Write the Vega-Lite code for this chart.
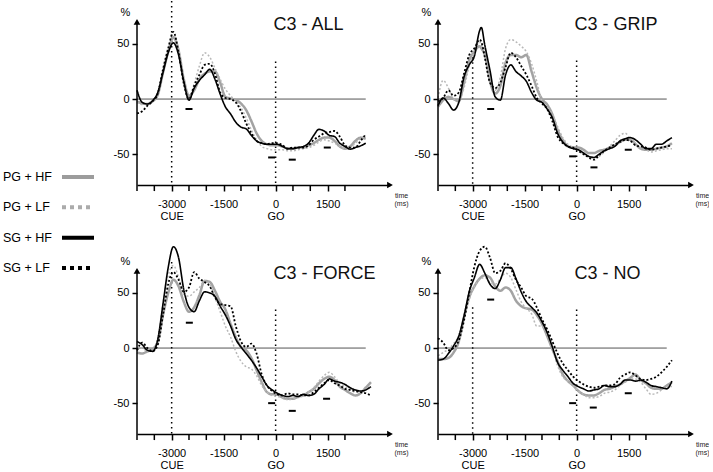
{
  "$schema": "https://vega.github.io/schema/vega-lite/v6.json",
  "padding": 0,
  "bounds": "flush",
  "spacing": 37,
  "background": "white",
  "config": {
    "view": {"stroke": null},
    "font": "Liberation Sans",
    "text": {"font": "Liberation Sans"},
    "axis": {"labelFont": "Liberation Sans", "titleFont": "Liberation Sans"},
    "header": {"labels": false, "title": null, "labelFontSize": 0, "labelPadding": 0, "titlePadding": 0}
  },
  "resolve": {"scale": {"color": "independent", "strokeDash": "independent", "x": "independent", "y": "independent"}},
  "datasets": {
    "legend": [
      {"s": "PG + HF"}, {"s": "PG + LF"}, {"s": "SG + HF"}, {"s": "SG + LF"}
    ],
    "main": [
      {"p": "ALL", "k": "title", "title": "C3 - ALL"},
      {"p": "GRIP", "k": "title", "title": "C3 - GRIP"},
      {"p": "FORCE", "k": "title", "title": "C3 - FORCE"},
      {"p": "NO", "k": "title", "title": "C3 - NO"},
      {"p": "ALL", "k": "r", "t": -3000, "v": 89},
      {"p": "ALL", "k": "r", "t": 0, "v": 34},
      {"p": "GRIP", "k": "r", "t": -3000, "v": 38},
      {"p": "GRIP", "k": "r", "t": 0, "v": 35},
      {"p": "FORCE", "k": "r", "t": -3000, "v": 78},
      {"p": "FORCE", "k": "r", "t": 0, "v": 35},
      {"p": "NO", "k": "r", "t": -3000, "v": 37},
      {"p": "NO", "k": "r", "t": 0, "v": 35},
      {"p": "ALL", "k": "m", "t": -2500, "v": -9},
      {"p": "ALL", "k": "m", "t": -115, "v": -53},
      {"p": "ALL", "k": "m", "t": 480, "v": -55},
      {"p": "ALL", "k": "m", "t": 1490, "v": -44},
      {"p": "GRIP", "k": "m", "t": -2480, "v": -9},
      {"p": "GRIP", "k": "m", "t": -115, "v": -52},
      {"p": "GRIP", "k": "m", "t": 500, "v": -62},
      {"p": "GRIP", "k": "m", "t": 1490, "v": -46},
      {"p": "FORCE", "k": "m", "t": -2490, "v": 23},
      {"p": "FORCE", "k": "m", "t": -115, "v": -50},
      {"p": "FORCE", "k": "m", "t": 480, "v": -57},
      {"p": "FORCE", "k": "m", "t": 1470, "v": -46},
      {"p": "NO", "k": "m", "t": -2480, "v": 44},
      {"p": "NO", "k": "m", "t": -115, "v": -50},
      {"p": "NO", "k": "m", "t": 480, "v": -54},
      {"p": "NO", "k": "m", "t": 1490, "v": -41},

      {"p": "ALL", "k": "tk", "t": -4000}, {"p": "ALL", "k": "tk", "t": -3500}, {"p": "ALL", "k": "tk", "t": -2500},
      {"p": "ALL", "k": "tk", "t": -2000}, {"p": "ALL", "k": "tk", "t": -1000}, {"p": "ALL", "k": "tk", "t": -500},
      {"p": "ALL", "k": "tk", "t": 500}, {"p": "ALL", "k": "tk", "t": 1000}, {"p": "ALL", "k": "tk", "t": 2000},
      {"p": "GRIP", "k": "tk", "t": -4000}, {"p": "GRIP", "k": "tk", "t": -3500}, {"p": "GRIP", "k": "tk", "t": -2500},
      {"p": "GRIP", "k": "tk", "t": -2000}, {"p": "GRIP", "k": "tk", "t": -1000}, {"p": "GRIP", "k": "tk", "t": -500},
      {"p": "GRIP", "k": "tk", "t": 500}, {"p": "GRIP", "k": "tk", "t": 1000}, {"p": "GRIP", "k": "tk", "t": 2000},
      {"p": "FORCE", "k": "tk", "t": -4000}, {"p": "FORCE", "k": "tk", "t": -3500}, {"p": "FORCE", "k": "tk", "t": -2500},
      {"p": "FORCE", "k": "tk", "t": -2000}, {"p": "FORCE", "k": "tk", "t": -1000}, {"p": "FORCE", "k": "tk", "t": -500},
      {"p": "FORCE", "k": "tk", "t": 500}, {"p": "FORCE", "k": "tk", "t": 1000}, {"p": "FORCE", "k": "tk", "t": 2000},
      {"p": "NO", "k": "tk", "t": -4000}, {"p": "NO", "k": "tk", "t": -3500}, {"p": "NO", "k": "tk", "t": -2500},
      {"p": "NO", "k": "tk", "t": -2000}, {"p": "NO", "k": "tk", "t": -1000}, {"p": "NO", "k": "tk", "t": -500},
      {"p": "NO", "k": "tk", "t": 500}, {"p": "NO", "k": "tk", "t": 1000}, {"p": "NO", "k": "tk", "t": 2000},

      {"p": "ALL", "t": -4000, "PG + HF": -2, "PG + LF": -3, "SG + HF": 8, "SG + LF": -13},
      {"p": "ALL", "t": -3850, "PG + HF": -4, "PG + LF": -5, "SG + HF": -3, "SG + LF": -11},
      {"p": "ALL", "t": -3700, "PG + HF": -4.5, "PG + LF": -4, "SG + HF": -4.5, "SG + LF": -6},
      {"p": "ALL", "t": -3550, "PG + HF": -2, "PG + LF": -1, "SG + HF": -1.5, "SG + LF": -2},
      {"p": "ALL", "t": -3400, "PG + HF": 4, "PG + LF": 5, "SG + HF": 6, "SG + LF": 5},
      {"p": "ALL", "t": -3250, "PG + HF": 24, "PG + LF": 26, "SG + HF": 24, "SG + LF": 27},
      {"p": "ALL", "t": -3100, "PG + HF": 43, "PG + LF": 45, "SG + HF": 42, "SG + LF": 46},
      {"p": "ALL", "t": -2950, "PG + HF": 56, "PG + LF": 58, "SG + HF": 51, "SG + LF": 61},
      {"p": "ALL", "t": -2800, "PG + HF": 44, "PG + LF": 45, "SG + HF": 40, "SG + LF": 42},
      {"p": "ALL", "t": -2650, "PG + HF": 18, "PG + LF": 17, "SG + HF": 16, "SG + LF": 14},
      {"p": "ALL", "t": -2500, "PG + HF": 3, "PG + LF": 1, "SG + HF": -1, "SG + LF": 0},
      {"p": "ALL", "t": -2350, "PG + HF": 8, "PG + LF": 14, "SG + HF": 10, "SG + LF": 12},
      {"p": "ALL", "t": -2200, "PG + HF": 18, "PG + LF": 30, "SG + HF": 17, "SG + LF": 22},
      {"p": "ALL", "t": -2050, "PG + HF": 23, "PG + LF": 42, "SG + HF": 22, "SG + LF": 31},
      {"p": "ALL", "t": -1900, "PG + HF": 25, "PG + LF": 38, "SG + HF": 27, "SG + LF": 32},
      {"p": "ALL", "t": -1750, "PG + HF": 25, "PG + LF": 28, "SG + HF": 18, "SG + LF": 23},
      {"p": "ALL", "t": -1600, "PG + HF": 15, "PG + LF": 18, "SG + HF": 4.5, "SG + LF": 6},
      {"p": "ALL", "t": -1450, "PG + HF": 2, "PG + LF": 9, "SG + HF": -7, "SG + LF": 1},
      {"p": "ALL", "t": -1300, "PG + HF": 0.5, "PG + LF": 3, "SG + HF": -13.5, "SG + LF": 0},
      {"p": "ALL", "t": -1150, "PG + HF": -1, "PG + LF": -2, "SG + HF": -21, "SG + LF": -3},
      {"p": "ALL", "t": -1000, "PG + HF": -4, "PG + LF": -8, "SG + HF": -25.5, "SG + LF": -11},
      {"p": "ALL", "t": -850, "PG + HF": -10, "PG + LF": -17, "SG + HF": -27, "SG + LF": -22},
      {"p": "ALL", "t": -700, "PG + HF": -20, "PG + LF": -28, "SG + HF": -33, "SG + LF": -31},
      {"p": "ALL", "t": -550, "PG + HF": -31, "PG + LF": -37, "SG + HF": -38, "SG + LF": -38},
      {"p": "ALL", "t": -400, "PG + HF": -38, "PG + LF": -43, "SG + HF": -40, "SG + LF": -40},
      {"p": "ALL", "t": -250, "PG + HF": -41, "PG + LF": -45, "SG + HF": -41, "SG + LF": -41},
      {"p": "ALL", "t": -100, "PG + HF": -42, "PG + LF": -46, "SG + HF": -41, "SG + LF": -40},
      {"p": "ALL", "t": 50, "PG + HF": -42, "PG + LF": -46, "SG + HF": -41, "SG + LF": -40},
      {"p": "ALL", "t": 200, "PG + HF": -43, "PG + LF": -46, "SG + HF": -43, "SG + LF": -42},
      {"p": "ALL", "t": 350, "PG + HF": -45, "PG + LF": -47, "SG + HF": -45, "SG + LF": -45},
      {"p": "ALL", "t": 500, "PG + HF": -45, "PG + LF": -47, "SG + HF": -45, "SG + LF": -44},
      {"p": "ALL", "t": 650, "PG + HF": -44, "PG + LF": -46, "SG + HF": -44, "SG + LF": -44},
      {"p": "ALL", "t": 800, "PG + HF": -44, "PG + LF": -45, "SG + HF": -43, "SG + LF": -44},
      {"p": "ALL", "t": 950, "PG + HF": -42, "PG + LF": -44, "SG + HF": -40, "SG + LF": -42},
      {"p": "ALL", "t": 1100, "PG + HF": -40, "PG + LF": -42, "SG + HF": -33, "SG + LF": -37},
      {"p": "ALL", "t": 1250, "PG + HF": -37, "PG + LF": -39, "SG + HF": -27.5, "SG + LF": -34},
      {"p": "ALL", "t": 1400, "PG + HF": -35, "PG + LF": -37, "SG + HF": -29, "SG + LF": -31},
      {"p": "ALL", "t": 1550, "PG + HF": -35, "PG + LF": -38, "SG + HF": -33, "SG + LF": -30},
      {"p": "ALL", "t": 1700, "PG + HF": -38, "PG + LF": -40, "SG + HF": -34, "SG + LF": -29},
      {"p": "ALL", "t": 1850, "PG + HF": -43, "PG + LF": -43, "SG + HF": -40, "SG + LF": -34},
      {"p": "ALL", "t": 2000, "PG + HF": -45, "PG + LF": -45, "SG + HF": -43, "SG + LF": -42},
      {"p": "ALL", "t": 2150, "PG + HF": -43, "PG + LF": -44, "SG + HF": -45.5, "SG + LF": -44},
      {"p": "ALL", "t": 2300, "PG + HF": -38, "PG + LF": -40, "SG + HF": -44, "SG + LF": -44},
      {"p": "ALL", "t": 2450, "PG + HF": -35, "PG + LF": -36, "SG + HF": -42.5, "SG + LF": -38},
      {"p": "ALL", "t": 2600, "PG + HF": -36, "PG + LF": -33, "SG + HF": -40, "SG + LF": -32},

      {"p": "GRIP", "t": -4000, "PG + HF": -7, "PG + LF": 1, "SG + HF": -6, "SG + LF": -2},
      {"p": "GRIP", "t": -3850, "PG + HF": -1, "PG + LF": 17, "SG + HF": 1, "SG + LF": 1},
      {"p": "GRIP", "t": -3700, "PG + HF": 2, "PG + LF": 10, "SG + HF": -4, "SG + LF": 8},
      {"p": "GRIP", "t": -3550, "PG + HF": 0, "PG + LF": 0, "SG + HF": -10, "SG + LF": 3},
      {"p": "GRIP", "t": -3400, "PG + HF": -2, "PG + LF": -1, "SG + HF": -3, "SG + LF": 6},
      {"p": "GRIP", "t": -3250, "PG + HF": 15, "PG + LF": 10, "SG + HF": 20, "SG + LF": 23},
      {"p": "GRIP", "t": -3100, "PG + HF": 35, "PG + LF": 30, "SG + HF": 31, "SG + LF": 40},
      {"p": "GRIP", "t": -2950, "PG + HF": 43, "PG + LF": 43, "SG + HF": 39, "SG + LF": 46},
      {"p": "GRIP", "t": -2800, "PG + HF": 48, "PG + LF": 52, "SG + HF": 62, "SG + LF": 54},
      {"p": "GRIP", "t": -2750, "PG + HF": 46, "PG + LF": 49, "SG + HF": 65, "SG + LF": 52},
      {"p": "GRIP", "t": -2650, "PG + HF": 40, "PG + LF": 45, "SG + HF": 49, "SG + LF": 38},
      {"p": "GRIP", "t": -2500, "PG + HF": 16, "PG + LF": 20, "SG + HF": 26, "SG + LF": 15},
      {"p": "GRIP", "t": -2350, "PG + HF": 5, "PG + LF": 8, "SG + HF": 2, "SG + LF": 10},
      {"p": "GRIP", "t": -2200, "PG + HF": 12, "PG + LF": 20, "SG + HF": -1, "SG + LF": 15},
      {"p": "GRIP", "t": -2050, "PG + HF": 33, "PG + LF": 46, "SG + HF": 22, "SG + LF": 29},
      {"p": "GRIP", "t": -1900, "PG + HF": 40, "PG + LF": 54, "SG + HF": 31, "SG + LF": 42},
      {"p": "GRIP", "t": -1750, "PG + HF": 40, "PG + LF": 52, "SG + HF": 25, "SG + LF": 38},
      {"p": "GRIP", "t": -1600, "PG + HF": 38, "PG + LF": 48, "SG + HF": 21, "SG + LF": 30},
      {"p": "GRIP", "t": -1450, "PG + HF": 40, "PG + LF": 43, "SG + HF": 16, "SG + LF": 22},
      {"p": "GRIP", "t": -1300, "PG + HF": 25, "PG + LF": 32, "SG + HF": 6, "SG + LF": 12},
      {"p": "GRIP", "t": -1150, "PG + HF": 10, "PG + LF": 16, "SG + HF": -1, "SG + LF": 1},
      {"p": "GRIP", "t": -1000, "PG + HF": 0, "PG + LF": -2, "SG + HF": -3, "SG + LF": -4},
      {"p": "GRIP", "t": -850, "PG + HF": -5, "PG + LF": -7, "SG + HF": -9, "SG + LF": -9},
      {"p": "GRIP", "t": -700, "PG + HF": -14, "PG + LF": -14, "SG + HF": -17, "SG + LF": -20},
      {"p": "GRIP", "t": -550, "PG + HF": -28, "PG + LF": -25, "SG + HF": -31, "SG + LF": -34},
      {"p": "GRIP", "t": -400, "PG + HF": -37, "PG + LF": -35, "SG + HF": -39, "SG + LF": -40},
      {"p": "GRIP", "t": -250, "PG + HF": -43, "PG + LF": -41, "SG + HF": -43, "SG + LF": -43},
      {"p": "GRIP", "t": -100, "PG + HF": -44, "PG + LF": -44, "SG + HF": -45, "SG + LF": -44},
      {"p": "GRIP", "t": 50, "PG + HF": -44, "PG + LF": -47, "SG + HF": -46, "SG + LF": -47},
      {"p": "GRIP", "t": 200, "PG + HF": -46, "PG + LF": -50, "SG + HF": -49, "SG + LF": -50},
      {"p": "GRIP", "t": 350, "PG + HF": -49, "PG + LF": -52, "SG + HF": -52, "SG + LF": -53},
      {"p": "GRIP", "t": 500, "PG + HF": -49, "PG + LF": -53, "SG + HF": -53, "SG + LF": -55},
      {"p": "GRIP", "t": 650, "PG + HF": -47, "PG + LF": -52, "SG + HF": -50, "SG + LF": -51},
      {"p": "GRIP", "t": 800, "PG + HF": -46, "PG + LF": -48, "SG + HF": -47, "SG + LF": -47},
      {"p": "GRIP", "t": 950, "PG + HF": -44, "PG + LF": -43, "SG + HF": -45, "SG + LF": -44},
      {"p": "GRIP", "t": 1100, "PG + HF": -42, "PG + LF": -38, "SG + HF": -43, "SG + LF": -41},
      {"p": "GRIP", "t": 1250, "PG + HF": -39, "PG + LF": -33, "SG + HF": -38, "SG + LF": -39},
      {"p": "GRIP", "t": 1400, "PG + HF": -37, "PG + LF": -31, "SG + HF": -36, "SG + LF": -37},
      {"p": "GRIP", "t": 1550, "PG + HF": -37, "PG + LF": -36, "SG + HF": -35, "SG + LF": -38},
      {"p": "GRIP", "t": 1700, "PG + HF": -41, "PG + LF": -40, "SG + HF": -37, "SG + LF": -42},
      {"p": "GRIP", "t": 1850, "PG + HF": -45, "PG + LF": -44, "SG + HF": -41, "SG + LF": -43},
      {"p": "GRIP", "t": 2000, "PG + HF": -46, "PG + LF": -46, "SG + HF": -45, "SG + LF": -44},
      {"p": "GRIP", "t": 2150, "PG + HF": -46, "PG + LF": -48, "SG + HF": -45, "SG + LF": -46},
      {"p": "GRIP", "t": 2300, "PG + HF": -45, "PG + LF": -47, "SG + HF": -41, "SG + LF": -45},
      {"p": "GRIP", "t": 2450, "PG + HF": -44, "PG + LF": -46, "SG + HF": -41, "SG + LF": -44},
      {"p": "GRIP", "t": 2600, "PG + HF": -43, "PG + LF": -45, "SG + HF": -38, "SG + LF": -43},
      {"p": "GRIP", "t": 2750, "PG + HF": -40, "PG + LF": -45, "SG + HF": -35, "SG + LF": -42},

      {"p": "FORCE", "t": -4000, "PG + HF": -4, "PG + LF": -2, "SG + HF": 6, "SG + LF": -2},
      {"p": "FORCE", "t": -3850, "PG + HF": -5, "PG + LF": 0, "SG + HF": 3, "SG + LF": 5},
      {"p": "FORCE", "t": -3700, "PG + HF": -3, "PG + LF": -3, "SG + HF": -2, "SG + LF": 0},
      {"p": "FORCE", "t": -3550, "PG + HF": -1, "PG + LF": -2, "SG + HF": -3, "SG + LF": -3},
      {"p": "FORCE", "t": -3400, "PG + HF": 6, "PG + LF": 8, "SG + HF": 8, "SG + LF": 3},
      {"p": "FORCE", "t": -3250, "PG + HF": 30, "PG + LF": 40, "SG + HF": 40, "SG + LF": 30},
      {"p": "FORCE", "t": -3100, "PG + HF": 50, "PG + LF": 66, "SG + HF": 73, "SG + LF": 58},
      {"p": "FORCE", "t": -2950, "PG + HF": 62, "PG + LF": 75, "SG + HF": 92, "SG + LF": 69},
      {"p": "FORCE", "t": -2800, "PG + HF": 56, "PG + LF": 64, "SG + HF": 82, "SG + LF": 62},
      {"p": "FORCE", "t": -2650, "PG + HF": 42, "PG + LF": 49, "SG + HF": 53, "SG + LF": 51},
      {"p": "FORCE", "t": -2500, "PG + HF": 33, "PG + LF": 47, "SG + HF": 37, "SG + LF": 55},
      {"p": "FORCE", "t": -2350, "PG + HF": 37, "PG + LF": 51, "SG + HF": 33, "SG + LF": 69},
      {"p": "FORCE", "t": -2200, "PG + HF": 48, "PG + LF": 55, "SG + HF": 43, "SG + LF": 63},
      {"p": "FORCE", "t": -2050, "PG + HF": 61, "PG + LF": 61, "SG + HF": 51, "SG + LF": 60},
      {"p": "FORCE", "t": -1900, "PG + HF": 60, "PG + LF": 58, "SG + HF": 50, "SG + LF": 56},
      {"p": "FORCE", "t": -1750, "PG + HF": 52, "PG + LF": 46, "SG + HF": 47, "SG + LF": 46},
      {"p": "FORCE", "t": -1600, "PG + HF": 42, "PG + LF": 33, "SG + HF": 38, "SG + LF": 40},
      {"p": "FORCE", "t": -1450, "PG + HF": 35, "PG + LF": 20, "SG + HF": 30, "SG + LF": 39},
      {"p": "FORCE", "t": -1300, "PG + HF": 22, "PG + LF": 10, "SG + HF": 20, "SG + LF": 38},
      {"p": "FORCE", "t": -1150, "PG + HF": 10, "PG + LF": -3, "SG + HF": 8, "SG + LF": 20},
      {"p": "FORCE", "t": -1000, "PG + HF": 1, "PG + LF": -12, "SG + HF": 1, "SG + LF": 6},
      {"p": "FORCE", "t": -850, "PG + HF": -2, "PG + LF": -17, "SG + HF": -5, "SG + LF": 1},
      {"p": "FORCE", "t": -700, "PG + HF": -9, "PG + LF": -19, "SG + HF": -11, "SG + LF": 4},
      {"p": "FORCE", "t": -550, "PG + HF": -20, "PG + LF": -25, "SG + HF": -18, "SG + LF": -5},
      {"p": "FORCE", "t": -400, "PG + HF": -31, "PG + LF": -34, "SG + HF": -26, "SG + LF": -24},
      {"p": "FORCE", "t": -250, "PG + HF": -40, "PG + LF": -40, "SG + HF": -34, "SG + LF": -34},
      {"p": "FORCE", "t": -100, "PG + HF": -42, "PG + LF": -43, "SG + HF": -38, "SG + LF": -39},
      {"p": "FORCE", "t": 50, "PG + HF": -42, "PG + LF": -44, "SG + HF": -41, "SG + LF": -42},
      {"p": "FORCE", "t": 200, "PG + HF": -45, "PG + LF": -45, "SG + HF": -43, "SG + LF": -43},
      {"p": "FORCE", "t": 350, "PG + HF": -46, "PG + LF": -47, "SG + HF": -44, "SG + LF": -41},
      {"p": "FORCE", "t": 500, "PG + HF": -46, "PG + LF": -46, "SG + HF": -43, "SG + LF": -42},
      {"p": "FORCE", "t": 650, "PG + HF": -44, "PG + LF": -45, "SG + HF": -44, "SG + LF": -42},
      {"p": "FORCE", "t": 800, "PG + HF": -43, "PG + LF": -43, "SG + HF": -42, "SG + LF": -43},
      {"p": "FORCE", "t": 950, "PG + HF": -40, "PG + LF": -40, "SG + HF": -43, "SG + LF": -43},
      {"p": "FORCE", "t": 1100, "PG + HF": -37, "PG + LF": -36, "SG + HF": -42, "SG + LF": -40},
      {"p": "FORCE", "t": 1250, "PG + HF": -32, "PG + LF": -30, "SG + HF": -37, "SG + LF": -36},
      {"p": "FORCE", "t": 1400, "PG + HF": -28, "PG + LF": -25, "SG + HF": -33, "SG + LF": -32},
      {"p": "FORCE", "t": 1550, "PG + HF": -26, "PG + LF": -22, "SG + HF": -28, "SG + LF": -29},
      {"p": "FORCE", "t": 1700, "PG + HF": -29, "PG + LF": -26, "SG + HF": -30, "SG + LF": -32},
      {"p": "FORCE", "t": 1850, "PG + HF": -35, "PG + LF": -32, "SG + HF": -31, "SG + LF": -34},
      {"p": "FORCE", "t": 2000, "PG + HF": -38, "PG + LF": -35, "SG + HF": -33, "SG + LF": -37},
      {"p": "FORCE", "t": 2150, "PG + HF": -41, "PG + LF": -38, "SG + HF": -36, "SG + LF": -38},
      {"p": "FORCE", "t": 2300, "PG + HF": -43, "PG + LF": -40, "SG + HF": -38, "SG + LF": -39},
      {"p": "FORCE", "t": 2450, "PG + HF": -41, "PG + LF": -40, "SG + HF": -39, "SG + LF": -40},
      {"p": "FORCE", "t": 2600, "PG + HF": -36, "PG + LF": -37, "SG + HF": -38, "SG + LF": -41},
      {"p": "FORCE", "t": 2750, "PG + HF": -31, "PG + LF": -35, "SG + HF": -35, "SG + LF": -43},

      {"p": "NO", "t": -4000, "PG + HF": -10, "PG + LF": -7, "SG + HF": -11, "SG + LF": 9},
      {"p": "NO", "t": -3850, "PG + HF": -10, "PG + LF": -4, "SG + HF": -10, "SG + LF": 5},
      {"p": "NO", "t": -3700, "PG + HF": -9, "PG + LF": -1, "SG + HF": -5, "SG + LF": -2},
      {"p": "NO", "t": -3550, "PG + HF": -4, "PG + LF": 4, "SG + HF": 2, "SG + LF": 0},
      {"p": "NO", "t": -3400, "PG + HF": 6, "PG + LF": 11, "SG + HF": 11, "SG + LF": 7},
      {"p": "NO", "t": -3250, "PG + HF": 28, "PG + LF": 28, "SG + HF": 29, "SG + LF": 25},
      {"p": "NO", "t": -3100, "PG + HF": 46, "PG + LF": 44, "SG + HF": 51, "SG + LF": 50},
      {"p": "NO", "t": -2950, "PG + HF": 56, "PG + LF": 56, "SG + HF": 64, "SG + LF": 74},
      {"p": "NO", "t": -2800, "PG + HF": 63, "PG + LF": 62, "SG + HF": 76, "SG + LF": 88},
      {"p": "NO", "t": -2650, "PG + HF": 66, "PG + LF": 64, "SG + HF": 68, "SG + LF": 92},
      {"p": "NO", "t": -2500, "PG + HF": 64, "PG + LF": 60, "SG + HF": 58, "SG + LF": 82},
      {"p": "NO", "t": -2350, "PG + HF": 56, "PG + LF": 58, "SG + HF": 54, "SG + LF": 68},
      {"p": "NO", "t": -2200, "PG + HF": 52, "PG + LF": 63, "SG + HF": 62, "SG + LF": 70},
      {"p": "NO", "t": -2050, "PG + HF": 55, "PG + LF": 68, "SG + HF": 73, "SG + LF": 77},
      {"p": "NO", "t": -1900, "PG + HF": 52, "PG + LF": 64, "SG + HF": 73, "SG + LF": 72},
      {"p": "NO", "t": -1750, "PG + HF": 43, "PG + LF": 53, "SG + HF": 63, "SG + LF": 62},
      {"p": "NO", "t": -1600, "PG + HF": 38, "PG + LF": 42, "SG + HF": 51, "SG + LF": 55},
      {"p": "NO", "t": -1450, "PG + HF": 36, "PG + LF": 36, "SG + HF": 42, "SG + LF": 47},
      {"p": "NO", "t": -1300, "PG + HF": 35, "PG + LF": 31, "SG + HF": 37, "SG + LF": 45},
      {"p": "NO", "t": -1150, "PG + HF": 30, "PG + LF": 20, "SG + HF": 32, "SG + LF": 37},
      {"p": "NO", "t": -1000, "PG + HF": 22, "PG + LF": 20, "SG + HF": 24, "SG + LF": 26},
      {"p": "NO", "t": -850, "PG + HF": 11, "PG + LF": 12, "SG + HF": 14, "SG + LF": 17},
      {"p": "NO", "t": -700, "PG + HF": -1, "PG + LF": -1, "SG + HF": 1, "SG + LF": 6},
      {"p": "NO", "t": -550, "PG + HF": -12, "PG + LF": -16, "SG + HF": -13, "SG + LF": -5},
      {"p": "NO", "t": -400, "PG + HF": -24, "PG + LF": -26, "SG + HF": -20, "SG + LF": -14},
      {"p": "NO", "t": -250, "PG + HF": -30, "PG + LF": -30, "SG + HF": -26, "SG + LF": -20},
      {"p": "NO", "t": -100, "PG + HF": -34, "PG + LF": -34, "SG + HF": -32, "SG + LF": -26},
      {"p": "NO", "t": 50, "PG + HF": -39, "PG + LF": -39, "SG + HF": -35, "SG + LF": -30},
      {"p": "NO", "t": 200, "PG + HF": -42, "PG + LF": -42, "SG + HF": -37, "SG + LF": -33},
      {"p": "NO", "t": 350, "PG + HF": -43, "PG + LF": -45, "SG + HF": -39, "SG + LF": -35},
      {"p": "NO", "t": 500, "PG + HF": -43, "PG + LF": -45, "SG + HF": -38, "SG + LF": -36},
      {"p": "NO", "t": 650, "PG + HF": -41, "PG + LF": -44, "SG + HF": -37, "SG + LF": -35},
      {"p": "NO", "t": 800, "PG + HF": -38, "PG + LF": -41, "SG + HF": -34, "SG + LF": -34},
      {"p": "NO", "t": 950, "PG + HF": -37, "PG + LF": -40, "SG + HF": -35, "SG + LF": -34},
      {"p": "NO", "t": 1100, "PG + HF": -35, "PG + LF": -38, "SG + HF": -35, "SG + LF": -33},
      {"p": "NO", "t": 1250, "PG + HF": -33, "PG + LF": -34, "SG + HF": -33, "SG + LF": -27},
      {"p": "NO", "t": 1400, "PG + HF": -30, "PG + LF": -31, "SG + HF": -29, "SG + LF": -24},
      {"p": "NO", "t": 1550, "PG + HF": -27, "PG + LF": -28, "SG + HF": -29, "SG + LF": -22},
      {"p": "NO", "t": 1700, "PG + HF": -24, "PG + LF": -28, "SG + HF": -30, "SG + LF": -25},
      {"p": "NO", "t": 1850, "PG + HF": -29, "PG + LF": -31, "SG + HF": -29, "SG + LF": -28},
      {"p": "NO", "t": 2000, "PG + HF": -32, "PG + LF": -37, "SG + HF": -31, "SG + LF": -29},
      {"p": "NO", "t": 2150, "PG + HF": -36, "PG + LF": -42, "SG + HF": -34, "SG + LF": -28},
      {"p": "NO", "t": 2300, "PG + HF": -37, "PG + LF": -41, "SG + HF": -35, "SG + LF": -26},
      {"p": "NO", "t": 2450, "PG + HF": -37, "PG + LF": -38, "SG + HF": -36, "SG + LF": -22},
      {"p": "NO", "t": 2600, "PG + HF": -34, "PG + LF": -35, "SG + HF": -37, "SG + LF": -17},
      {"p": "NO", "t": 2750, "PG + HF": -31, "PG + LF": -35, "SG + HF": -30, "SG + LF": -11}
    ]
  },
  "hconcat": [
    {
      "width": 100,
      "height": 300,
      "data": {"name": "legend"},
      "encoding": {
        "y": {"field": "s", "type": "nominal", "sort": null, "scale": {"type": "point", "padding": 0, "range": [176, 267]}, "axis": null}
      },
      "layer": [
        {
          "mark": {"type": "text", "align": "left", "baseline": "middle", "fontSize": 12.5, "color": "#000"},
          "encoding": {
            "x": {"datum": 3, "type": "quantitative", "scale": {"domain": [0, 100]}, "axis": null},
            "text": {"field": "s"}
          }
        },
        {
          "mark": {"type": "rule", "strokeWidth": 4},
          "encoding": {
            "x": {"datum": 62, "type": "quantitative", "scale": {"domain": [0, 100]}, "axis": null},
            "x2": {"datum": 94},
            "color": {"field": "s", "type": "nominal", "scale": {"domain": ["PG + HF", "PG + LF", "SG + HF", "SG + LF"], "range": ["#9c9c9c", "#ababab", "#000000", "#000000"]}, "legend": null},
            "strokeDash": {"field": "s", "type": "nominal", "scale": {"domain": ["PG + HF", "PG + LF", "SG + HF", "SG + LF"], "range": [[1, 0], [4, 4], [1, 0], [4, 4]]}, "legend": null}
          }
        }
      ]
    },
    {
      "data": {"name": "main"},
      "facet": {"field": "p", "type": "nominal", "title": null, "sort": ["ALL", "GRIP", "FORCE", "NO"], "header": null},
      "columns": 2,
      "spacing": {"row": 65, "column": 48},
      "bounds": "flush",
      "resolve": {"axis": {"x": "independent", "y": "independent"}},
      "spec": {
        "width": 253,
        "height": 184,
        "layer": [
          {
            "transform": [{"filter": "datum.k == 'title'"}],
            "mark": {"type": "rule", "color": "#555", "strokeWidth": 1},
            "encoding": {
              "x": {"datum": -4000, "type": "quantitative"},
              "x2": {"datum": 2600},
              "y": {"datum": 0, "type": "quantitative"}
            }
          },
          {
            "transform": [{"filter": "datum.k == 'r'"}],
            "mark": {"type": "rule", "color": "#000", "strokeWidth": 1.5, "strokeDash": [1.5, 3.5]},
            "encoding": {
              "x": {"field": "t", "type": "quantitative"},
              "y": {"field": "v", "type": "quantitative"},
              "y2": {"datum": -78}
            }
          },
          {
            "transform": [{"filter": "datum.k == 'tk'"}],
            "mark": {"type": "rule", "color": "#000", "strokeWidth": 1.5},
            "encoding": {
              "x": {"field": "t", "type": "quantitative"},
              "y": {"datum": -78, "type": "quantitative"},
              "y2": {"datum": -83.5}
            }
          },
          {
            "transform": [
              {"filter": "!datum.k"},
              {"fold": ["PG + HF", "PG + LF", "SG + HF", "SG + LF"], "as": ["s", "v"]}
            ],
            "mark": {"type": "line", "interpolate": "monotone"},
            "encoding": {
              "x": {
                "field": "t", "type": "quantitative",
                "scale": {"domain": [-4000, 3300], "nice": false, "zero": false},
                "axis": {
                  "values": [-3000, -1500, 0, 1500],
                  "grid": false, "domain": true, "domainColor": "#000", "domainWidth": 1.5,
                  "ticks": true, "tickColor": "#000", "tickWidth": 1.5, "tickSize": 6,
                  "labelExpr": "datum.value == -3000 ? ['-3000', 'CUE'] : datum.value == 0 ? ['0', 'GO'] : datum.value == -1500 ? '-1500' : '1500'",
                  "labelFontSize": 11, "labelColor": "#000", "labelPadding": 7, "labelLineHeight": 12.5,
                  "labelOverlap": false, "labelFlush": false, "labelBound": false,
                  "title": ["time", "(ms)"], "titleFontSize": 7, "titleFontWeight": "normal", "titleColor": "#222",
                  "titleX": 264, "titleY": 6, "titleAlign": "center", "titleBaseline": "top", "titleLineHeight": 8
                }
              },
              "y": {
                "field": "v", "type": "quantitative",
                "scale": {"domain": [-78, 89], "nice": false, "zero": false},
                "axis": {
                  "values": [-50, 0, 50], "grid": false, "domain": false,
                  "ticks": true, "tickColor": "#000", "tickWidth": 1.5, "tickSize": 5,
                  "labelExpr": "datum.value < 0 ? '-' + abs(datum.value) : '' + datum.value",
                  "labelFontSize": 11, "labelColor": "#000", "labelPadding": 3,
                  "title": "%", "titleAngle": 0, "titleFontSize": 11, "titleFontWeight": "normal", "titleColor": "#000",
                  "titleX": -12, "titleY": 14, "titleAlign": "center", "titleBaseline": "alphabetic"
                }
              },
              "color": {"field": "s", "type": "nominal", "scale": {"domain": ["PG + HF", "PG + LF", "SG + HF", "SG + LF"], "range": ["#a3a3a3", "#b8b8b8", "#000000", "#000000"]}, "legend": null},
              "strokeDash": {"field": "s", "type": "nominal", "scale": {"domain": ["PG + HF", "PG + LF", "SG + HF", "SG + LF"], "range": [[1, 0], [2, 2], [1, 0], [2, 2]]}, "legend": null},
              "strokeWidth": {"field": "s", "type": "nominal", "scale": {"type": "ordinal", "domain": ["PG + HF", "PG + LF", "SG + HF", "SG + LF"], "range": [2.5, 1.5, 1.6, 1.8]}, "legend": null}
            }
          },
          {
            "transform": [{"filter": "datum.k == 'm'"}],
            "mark": {"type": "tick", "orient": "horizontal", "size": 7, "thickness": 2, "color": "#000", "opacity": 1},
            "encoding": {
              "x": {"field": "t", "type": "quantitative"},
              "y": {"field": "v", "type": "quantitative"}
            }
          },
          {
            "transform": [{"filter": "datum.k == 'title'"}],
            "mark": {"type": "text", "align": "left", "baseline": "alphabetic", "fontSize": 18, "color": "#111"},
            "encoding": {
              "x": {"datum": -60, "type": "quantitative"},
              "y": {"datum": 63, "type": "quantitative"},
              "text": {"field": "title"}
            }
          },
          {
            "transform": [{"filter": "datum.k == 'title'"}],
            "mark": {"type": "rule", "color": "#000", "strokeWidth": 1.5},
            "encoding": {
              "x": {"datum": -4000, "type": "quantitative"},
              "y": {"datum": -78, "type": "quantitative"},
              "y2": {"datum": 71}
            }
          },
          {
            "transform": [{"filter": "datum.k == 'title'"}],
            "mark": {"type": "point", "shape": "triangle-up", "filled": true, "size": 45, "color": "#000", "opacity": 1},
            "encoding": {
              "x": {"datum": -4000, "type": "quantitative"},
              "y": {"datum": 70, "type": "quantitative"}
            }
          },
          {
            "transform": [{"filter": "datum.k == 'title'"}],
            "mark": {"type": "point", "shape": "triangle-right", "filled": true, "size": 45, "color": "#000", "opacity": 1},
            "encoding": {
              "x": {"datum": 3300, "type": "quantitative"},
              "y": {"datum": -78, "type": "quantitative"}
            }
          }
        ]
      }
    }
  ]
}
